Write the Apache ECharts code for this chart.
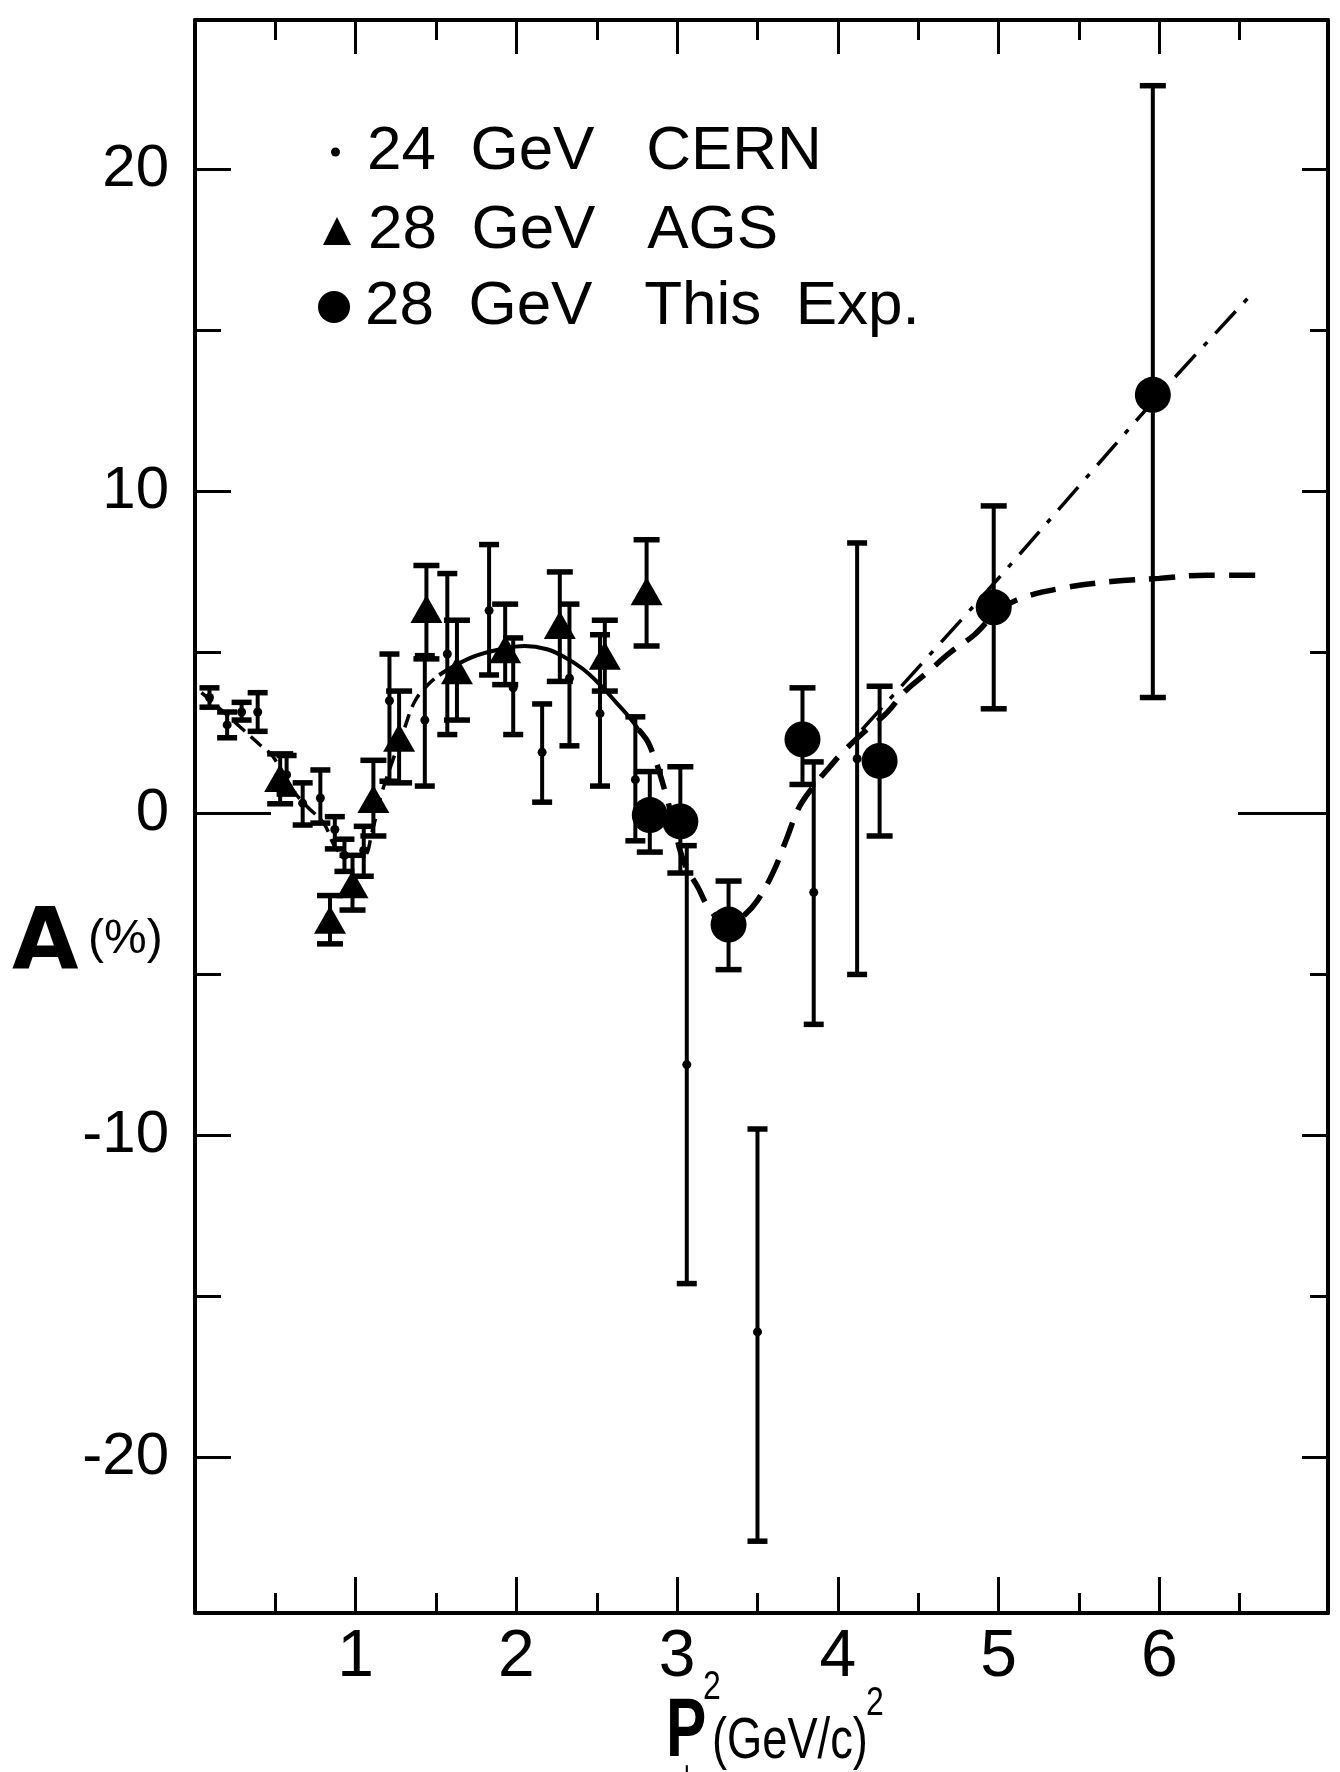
<!DOCTYPE html>
<html>
<head>
<meta charset="utf-8">
<title>A(%) vs Pt2</title>
<script src="https://cdn.jsdelivr.net/npm/echarts@6.0.0/dist/echarts.min.js"></script>
<style>
  html, body { margin: 0; padding: 0; background: #fff; }
  #chart { width: 1340px; height: 1772px; }
</style>
</head>
<body>
<div id="chart"></div>
<script>
// rows are [x, y, errLow, errHigh]
const cernData = [
  [0.09, 3.6, 3.3, 3.9], [0.20, 2.75, 2.35, 3.15], [0.29, 3.15, 2.9, 3.45],
  [0.39, 3.15, 2.55, 3.75], [0.57, 1.2, 0.6, 1.8], [0.67, 0.32, -0.36, 0.95],
  [0.78, 0.48, -0.3, 1.35], [0.87, -0.5, -1.1, -0.1], [0.93, -1.3, -1.8, -0.8],
  [1.05, -1.15, -1.95, -0.4], [1.21, 3.5, 1.0, 4.95], [1.43, 2.9, 0.85, 4.9],
  [1.57, 4.95, 2.45, 7.45], [1.83, 6.3, 4.3, 8.35], [1.98, 3.9, 2.45, 5.45],
  [2.16, 1.9, 0.35, 3.4], [2.33, 4.2, 2.1, 6.5], [2.52, 3.1, 0.85, 5.55],
  [2.74, 1.05, -0.85, 3.0], [3.06, -7.8, -14.6, -1.0], [3.50, -16.1, -22.6, -9.8],
  [3.85, -2.45, -6.55, 1.6], [4.12, 1.7, -5.0, 8.4]
];
const agsData = [
  [0.53, 1.1, 0.3, 1.85], [0.84, -3.3, -4.05, -2.55], [0.98, -2.2, -3.0, -1.3],
  [1.11, 0.45, -0.7, 1.65], [1.27, 2.35, 0.95, 3.8], [1.44, 6.35, 4.8, 7.7],
  [1.63, 4.45, 2.9, 6.0], [1.93, 5.1, 4.0, 6.5], [2.27, 5.85, 4.1, 7.5],
  [2.55, 4.9, 3.8, 6.0], [2.81, 6.9, 5.2, 8.5]
];
const expData = [
  [2.83, -0.05, -1.2, 1.3], [3.02, -0.25, -1.85, 1.45], [3.32, -3.45, -4.85, -2.1],
  [3.78, 2.3, 0.9, 3.9], [4.26, 1.63, -0.7, 3.95], [4.97, 6.4, 3.25, 9.55],
  [5.96, 13.0, 3.6, 22.6]
];

// hand-drawn fit curve, split by line style
const fitLeft = [
  [0.04, 3.75], [0.1, 3.5], [0.2, 3.05], [0.3, 2.6], [0.4, 2.15], [0.48, 1.8],
  [0.55, 1.2], [0.62, 0.65], [0.7, 0.2], [0.8, -0.3], [0.88, -1.1], [0.95, -1.3],
  [1.05, -1.3], [1.1, -0.6], [1.16, 0.6], [1.22, 1.5], [1.3, 2.6], [1.37, 3.5],
  [1.46, 4.05], [1.52, 4.3]
];
const fitMid = [
  [1.52, 4.3], [1.62, 4.6], [1.75, 4.9], [1.9, 5.1], [2.05, 5.2], [2.19, 5.1],
  [2.3, 4.85], [2.41, 4.5], [2.52, 4.0], [2.62, 3.45], [2.7, 3.0], [2.76, 2.6]
];
const fitRight = [
  [2.76, 2.6], [2.83, 2.1], [2.93, 0.6], [3.0, -0.8], [3.05, -1.6], [3.13, -2.3],
  [3.2, -2.95], [3.32, -3.5], [3.42, -3.15], [3.5, -2.7], [3.6, -1.8], [3.68, -0.8],
  [3.76, 0.2], [3.85, 0.85], [3.95, 1.45], [4.05, 2.0], [4.18, 2.6], [4.3, 3.1],
  [4.42, 3.8], [4.55, 4.35], [4.7, 5.0], [4.85, 5.55], [5.0, 6.3], [5.15, 6.7],
  [5.4, 7.0], [5.7, 7.2], [6.0, 7.3], [6.3, 7.4], [6.66, 7.4]
];
const fitDashDot = [[4.15, 2.6], [4.99, 7.25], [5.99, 12.95], [6.57, 16.1]];

const xMajor = [1, 2, 3, 4, 5, 6];
const xMinor = [0.5, 1.5, 2.5, 3.5, 4.5, 5.5, 6.5];
const yMajor = [-20, -10, 10, 20];
const yMinor = [-15, -5, 5, 15];
const yLabels = [-20, -10, 0, 10, 20];

const names = [
  '24\u00a0\u00a0GeV\u00a0\u00a0\u00a0CERN',
  '28\u00a0\u00a0GeV\u00a0\u00a0\u00a0AGS',
  '28\u00a0\u00a0GeV\u00a0\u00a0\u00a0This\u00a0\u00a0Exp.'
];

const X_MIN = 0, X_MAX = 7.05, Y_MIN = -24.83, Y_MAX = 24.64;
const sans = "'Liberation Sans', Arial, sans-serif";

const chart = echarts.init(document.getElementById('chart'));

function xAx(pos, ticks, len, withLine, labels) {
  return {
    type: 'value', position: pos, min: X_MIN, max: X_MAX,
    axisLine: { show: withLine, onZero: false, lineStyle: { color: '#000', width: 4 } },
    axisTick: { show: true, inside: true, length: len, customValues: ticks,
      lineStyle: { color: '#000', width: 3 } },
    axisLabel: labels ? { show: true, customValues: labels, margin: 12,
      color: '#000', fontSize: 66, fontFamily: sans } : { show: false },
    splitLine: { show: false }
  };
}

function yAx(pos, ticks, len, withLine, labels) {
  return {
    type: 'value', position: pos, min: Y_MIN, max: Y_MAX,
    axisLine: { show: withLine, onZero: false, lineStyle: { color: '#000', width: 4 } },
    axisTick: { show: true, inside: true, length: len, customValues: ticks,
      lineStyle: { color: '#000', width: 3 } },
    axisLabel: labels ? { show: true, customValues: labels, margin: 26,
      color: '#000', fontSize: 60, fontFamily: sans } : { show: false },
    splitLine: { show: false }
  };
}

function errBars(capHalf, lw) {
  return function (params, api) {
    const x = api.value(0);
    const top = api.coord([x, api.value(3)]);
    const bot = api.coord([x, api.value(2)]);
    const st = { stroke: '#000', lineWidth: lw };
    const cap = { stroke: '#000', lineWidth: lw + 1.5 };
    return {
      type: 'group',
      children: [
        { type: 'line', shape: { x1: top[0], y1: top[1], x2: bot[0], y2: bot[1] }, style: st },
        { type: 'line', shape: { x1: top[0] - capHalf, y1: top[1], x2: top[0] + capHalf, y2: top[1] }, style: cap },
        { type: 'line', shape: { x1: bot[0] - capHalf, y1: bot[1], x2: bot[0] + capHalf, y2: bot[1] }, style: cap }
      ]
    };
  };
}

function legendFor(name, top, left, size, pad) {
  return {
    data: [name], top: top, left: left, orient: 'vertical',
    selectedMode: false, itemWidth: size, itemHeight: size,
    textStyle: { color: '#000', fontSize: 62, fontFamily: sans, padding: [0, 0, 0, pad] }
  };
}

function label(text, x, y, size, opts) {
  return Object.assign({ type: 'text', x: x, y: y, style: Object.assign({
    text: text, fontSize: size, fontFamily: sans, fill: '#000', verticalAlign: 'middle'
  }, (opts && opts.style) || {}) }, (opts && opts.el) || {});
}

const option = {
  animation: false,
  backgroundColor: '#fff',
  grid: { left: 195, right: 12, top: 20, bottom: 159 },
  xAxis: [
    xAx('bottom', xMajor, 36, true, xMajor),
    xAx('bottom', xMinor, 20, false, null),
    xAx('top', xMajor, 34, true, null),
    xAx('top', xMinor, 20, false, null)
  ],
  yAxis: [
    yAx('left', yMajor, 36, true, yLabels),
    yAx('left', yMinor, 26, false, null),
    yAx('left', [0], 76, false, null),
    yAx('right', yMajor, 26, true, null),
    yAx('right', yMinor, 18, false, null),
    yAx('right', [0], 90, false, null)
  ],
  legend: [
    legendFor(names[0], 116, 326, 9, 22),
    legendFor(names[1], 195, 318, 28, 12),
    legendFor(names[2], 271, 313, 32, 10)
  ],
  graphic: [
    label('A', 12, 946, 86, { style: { fontWeight: 'bold', fontFamily: "'DejaVu Sans', sans-serif" } }),
    label('(%)', 88, 940, 48),
    label('P', 666, 1733, 84, { style: { fontWeight: 'bold' }, el: { scaleX: 0.72 } }),
    label('2', 703, 1688, 40, { el: { scaleX: 0.8 } }),
    label('\u22a5', 672, 1780, 34, { style: { fontFamily: "'DejaVu Sans', sans-serif" } }),
    label('(GeV/c)', 712, 1742, 58, { el: { scaleX: 0.78 } }),
    label('2', 866, 1704, 40, { el: { scaleX: 0.8 } })
  ],
  series: [
    { name: 'fitLeft', type: 'line', data: fitLeft, smooth: 0.4, showSymbol: false, silent: true,
      lineStyle: { color: '#000', width: 3.5, type: [14, 8] }, z: 2 },
    { name: 'fitMid', type: 'line', data: fitMid, smooth: 0.4, showSymbol: false, silent: true,
      lineStyle: { color: '#000', width: 4 }, z: 2 },
    { name: 'fitRight', type: 'line', data: fitRight, smooth: 0.4, showSymbol: false, silent: true,
      lineStyle: { color: '#000', width: 5.5, type: [26, 14] }, z: 2 },
    { name: 'fitDashDot', type: 'line', data: fitDashDot, smooth: 0.3, showSymbol: false, silent: true,
      lineStyle: { color: '#000', width: 3.5, type: [30, 12, 5, 12] }, z: 2 },
    { name: 'cernBars', type: 'custom', data: cernData, renderItem: errBars(10, 4),
      encode: { x: 0, y: [2, 3] }, silent: true, z: 3 },
    { name: 'agsBars', type: 'custom', data: agsData, renderItem: errBars(13, 4),
      encode: { x: 0, y: [2, 3] }, silent: true, z: 3 },
    { name: 'expBars', type: 'custom', data: expData, renderItem: errBars(13, 4),
      encode: { x: 0, y: [2, 3] }, silent: true, z: 3 },
    { name: names[0], type: 'scatter', data: cernData, symbol: 'circle', symbolSize: 9,
      itemStyle: { color: '#000', opacity: 1 }, z: 4 },
    { name: names[1], type: 'scatter', data: agsData, symbol: 'triangle', symbolSize: [32, 28],
      itemStyle: { color: '#000', opacity: 1 }, z: 4 },
    { name: names[2], type: 'scatter', data: expData, symbol: 'circle', symbolSize: 36,
      itemStyle: { color: '#000', opacity: 1 }, z: 4 }
  ]
};

chart.setOption(option);
window.addEventListener('resize', () => chart.resize());
</script>
</body>
</html>
